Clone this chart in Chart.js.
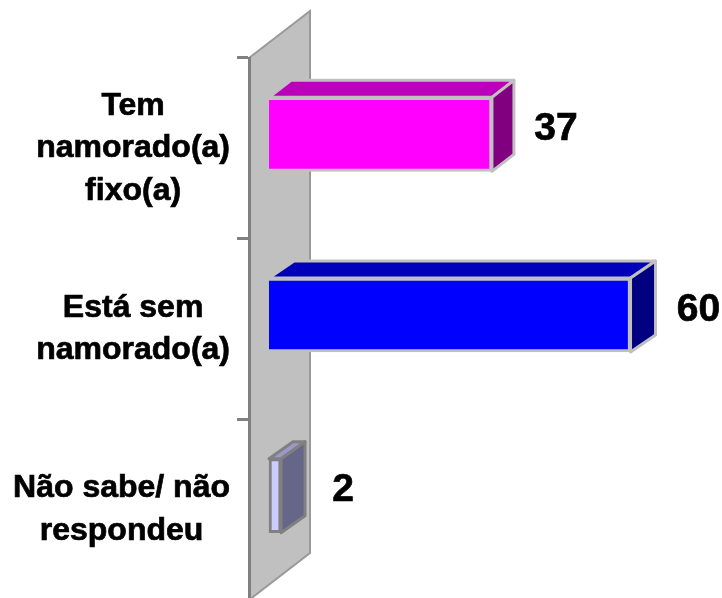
<!DOCTYPE html>
<html>
<head>
<meta charset="utf-8">
<style>
  html, body { margin: 0; padding: 0; background: #fff; overflow: hidden; }
  #wrap { width: 722px; height: 600px; }
</style>
<script src="https://cdn.jsdelivr.net/npm/chart.js@4/dist/chart.umd.min.js"></script>
</head>
<body>
<div id="wrap"><canvas id="chart" width="722" height="600"></canvas></div>
<script>
const categories = [
  ["Tem", "namorado(a)", "fixo(a)"],
  ["Está sem", "namorado(a)"],
  ["Não sabe/ não", "respondeu"],
];
const values = [37, 60, 2];

const frontColors = ["#ff00ff", "#0000ff", "#ccccff"];
const topColors = ["#bb00bb", "#0000bb", "#9999cc"];
const sideColors = ["#800080", "#000080", "#666688"];
const edgeColors = ["#c0c0c0", "#c0c0c0", "#808080"];
const skippedEdges = ["left", "left", false];
const sideDepth = [22, 25, 24];
const valueGap = [64, 68, 62];

// the bars stand a bit behind the front of the wall
const shiftX = 20;
const shiftY = -14;
const topDepth = 17;

const labelRight = 230;
const labelLine = 42.5;

const box3d = {
  id: "box3d",
  beforeDraw(chart) {
    const { ctx, chartArea: a } = chart;
    ctx.save();
    ctx.beginPath();
    ctx.moveTo(a.left, a.top);
    ctx.lineTo(a.left + 61, a.top - 47);
    ctx.lineTo(a.left + 61, a.bottom - 47);
    ctx.lineTo(a.left, a.bottom);
    ctx.closePath();
    ctx.fillStyle = "#c0c0c0";
    ctx.fill();
    ctx.strokeStyle = "#999999";
    ctx.lineWidth = 2;
    ctx.stroke();
    ctx.restore();
  },
  beforeDatasetsDraw(chart) {
    const ctx = chart.ctx;
    const bars = chart.getDatasetMeta(0).data;
    ctx.save();
    ctx.translate(shiftX, shiftY);
    bars.forEach((bar, i) => {
      const top = bar.y - bar.height / 2;
      const bottom = bar.y + bar.height / 2;
      const dx = sideDepth[i];
      ctx.strokeStyle = edgeColors[i];
      ctx.lineWidth = 3;
      ctx.lineJoin = "round";

      ctx.beginPath();
      ctx.moveTo(bar.base, top);
      ctx.lineTo(bar.base + dx, top - topDepth);
      ctx.lineTo(bar.x + dx, top - topDepth);
      ctx.lineTo(bar.x, top);
      ctx.closePath();
      ctx.fillStyle = topColors[i];
      ctx.fill();
      ctx.stroke();

      ctx.beginPath();
      ctx.moveTo(bar.x, top);
      ctx.lineTo(bar.x + dx, top - topDepth);
      ctx.lineTo(bar.x + dx, bottom - topDepth);
      ctx.lineTo(bar.x, bottom);
      ctx.closePath();
      ctx.fillStyle = sideColors[i];
      ctx.fill();
      ctx.stroke();
    });
  },
  afterDatasetsDraw(chart) {
    const ctx = chart.ctx;
    const bars = chart.getDatasetMeta(0).data;
    ctx.restore();
    ctx.save();
    ctx.fillStyle = "#000";
    ctx.strokeStyle = "#000";
    ctx.lineWidth = 0.7;
    ctx.textAlign = "center";
    ctx.textBaseline = "middle";

    ctx.font = "bold 39px 'Liberation Sans'";
    bars.forEach((bar, i) => {
      const x = bar.x + shiftX + valueGap[i];
      const y = bar.y + shiftY - 5;
      ctx.fillText(String(values[i]), x, y);
      ctx.strokeText(String(values[i]), x, y);
    });

    // each block of lines is centred on itself and ends at the same right edge
    ctx.font = "bold 32px 'Liberation Sans'";
    const yScale = chart.scales.y;
    categories.forEach((lines, i) => {
      const widest = Math.max(...lines.map((t) => ctx.measureText(t).width));
      const x = labelRight - widest / 2;
      const first = yScale.getPixelForTick(i) - ((lines.length - 1) * labelLine) / 2;
      lines.forEach((t, n) => {
        ctx.fillText(t, x, first + n * labelLine);
        ctx.strokeText(t, x, first + n * labelLine);
      });
    });
    ctx.restore();
  },
};

new Chart(document.getElementById("chart").getContext("2d"), {
  type: "bar",
  data: {
    labels: categories,
    datasets: [
      {
        data: values,
        backgroundColor: frontColors,
        borderColor: edgeColors,
        borderWidth: 3,
        borderSkipped: skippedEdges,
        barThickness: 74,
        clip: false,
      },
    ],
  },
  options: {
    indexAxis: "y",
    responsive: false,
    animation: false,
    layout: { padding: { top: 58, right: 3, bottom: 0, left: 0 } },
    plugins: { legend: { display: false }, tooltip: { enabled: false } },
    scales: {
      x: { display: false, min: 0, max: 78 },
      y: {
        afterFit(scale) {
          scale.width = 249;
        },
        grid: {
          offset: true,
          drawOnChartArea: false,
          tickLength: 12,
          tickWidth: 3,
          tickColor: "#808080",
        },
        border: { color: "#808080", width: 3 },
        ticks: { display: false },
      },
    },
  },
  plugins: [box3d],
});
</script>
</body>
</html>
